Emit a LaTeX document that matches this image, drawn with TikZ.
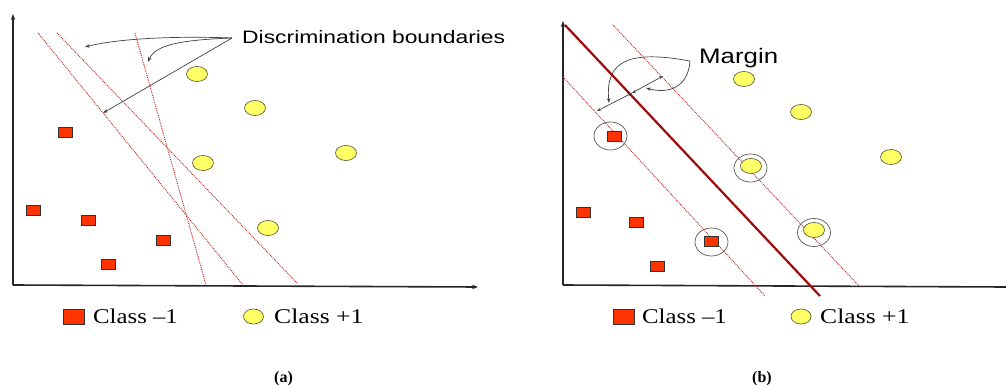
\documentclass[tikz,border=0pt]{standalone}
\usepackage{graphicx}
\usepackage{fontspec}
\setmainfont{Liberation Serif}
\newfontfamily\arialfam{Liberation Sans}
\usetikzlibrary{arrows.meta,shapes.geometric}
\definecolor{negred}{RGB}{255,51,0}
\definecolor{posyel}{RGB}{255,255,102}
\definecolor{bndred}{RGB}{190,30,30}
\definecolor{hypred}{RGB}{160,10,10}
\begin{document}
\begin{tikzpicture}[x=1pt,y=-1pt,
  axis/.style={line width=1.6pt, draw=black!85},
  axarrow/.style={-{Stealth[length=6pt,width=4.5pt]}},
  bound/.style={draw=bndred, line width=0.9pt, densely dotted},
  hyper/.style={draw=hypred, line width=2.2pt},
  negbox/.style={rectangle, draw=black!80, fill=negred, line width=0.6pt, minimum width=14pt, minimum height=10pt, inner sep=0pt},
  posdot/.style={ellipse, draw=black!55!olive, fill=posyel, line width=0.6pt, minimum width=21pt, minimum height=15pt, inner sep=0pt},
  lneg/.style={negbox, minimum width=21pt, minimum height=15pt},
  lpos/.style={posdot, minimum width=20pt, minimum height=15pt},
  ring/.style={ellipse, draw=black!65, line width=0.7pt, minimum width=33pt, minimum height=28pt, inner sep=0pt},
  note/.style={draw=black!75, line width=0.7pt, -{Stealth[length=5pt,width=3.5pt]}},
  dnote/.style={draw=black!75, line width=0.7pt, {Stealth[length=4pt,width=3pt]}-{Stealth[length=4pt,width=3pt]}},
  lbl/.style={inner sep=0pt, anchor=base west},
  sans/.style={font=\arialfam\fontsize{18}{20}\selectfont},
  serif/.style={font=\fontsize{21}{24}\selectfont},
  captxt/.style={font=\bfseries\fontsize{16}{18}\selectfont}
]
\useasboundingbox (0,0) rectangle (1006,385);

% ---------------- panel (a) ----------------
\coordinate (oa) at (13,285);
\coordinate (ya) at (13,14);
\coordinate (xa) at (478,287);
\draw[axis,axarrow] (oa) -- (ya);
\draw[axis,axarrow] (oa) -- (xa);

\coordinate (b1s) at (38,33);  \coordinate (b1e) at (243,285);
\coordinate (b2s) at (57,33);  \coordinate (b2e) at (297,283);
\coordinate (b3s) at (135,33); \coordinate (b3e) at (206,285);
\draw[bound] (b1s) -- (b1e);
\draw[bound] (b2s) -- (b2e);
\draw[bound] (b3s) -- (b3e);

\node[negbox] (an1) at (65,132) {};
\node[negbox] (an2) at (33,210) {};
\node[negbox] (an3) at (88,220) {};
\node[negbox] (an4) at (163,240) {};
\node[negbox] (an5) at (108,264) {};

\node[posdot] (ap1) at (197,74) {};
\node[posdot] (ap2) at (255,108) {};
\node[posdot] (ap3) at (203,163) {};
\node[posdot] (ap4) at (346,153) {};
\node[posdot] (ap5) at (268,228) {};

\node[lbl,sans] (dtext) at (242,44) {\scalebox{1.27}[1]{Discrimination boundaries}};
\coordinate (da) at (232,38);
\coordinate (t1) at (85,47);
\coordinate (t2) at (148,62);
\coordinate (t3) at (103,113);
\draw[note] (da) .. controls (180,36) and (120,38) .. (t1);
\draw[note] (da) .. controls (180,40) and (155,45) .. (t2);
\draw[note] (da) -- (t3);

% legend (a)
\node[lneg] (lga) at (74,316.5) {};
\node[lbl,serif] (lgat) at (93,323) {\scalebox{1.18}[1]{Class \textendash 1}};
\node[lpos] (lgb) at (253.5,316.5) {};
\node[lbl,serif] (lgbt) at (274,323) {\scalebox{1.22}[1]{Class +1}};
\node[lbl,captxt] (capa) at (274,382) {(a)};

% ---------------- panel (b) ----------------
\coordinate (ob) at (563,285);
\coordinate (yb) at (563,21);
\coordinate (xb) at (1006,287);
\draw[axis,axarrow] (ob) -- (yb);
\draw[axis] (ob) -- (xb);

\coordinate (hs) at (565,25);  \coordinate (he) at (820,296);
\coordinate (us) at (613,25);  \coordinate (ue) at (860,287);
\coordinate (ls) at (563,77);  \coordinate (le) at (765,296);
\draw[bound] (us) -- (ue);
\draw[bound] (ls) -- (le);
\draw[hyper] (hs) -- (he);

\node[negbox] (bn1) at (614,136) {};
\node[negbox] (bn2) at (583,212) {};
\node[negbox] (bn3) at (636,222) {};
\node[negbox] (bn4) at (711,241.5) {};
\node[negbox] (bn5) at (657,266) {};

\node[posdot] (bp1) at (744,79) {};
\node[posdot] (bp2) at (801,112) {};
\node[posdot] (bp3) at (751,166) {};
\node[posdot] (bp4) at (891,157) {};
\node[posdot] (bp5) at (814,230) {};

\node[ring] (r1) at (610.5,136) {};
\node[ring] (r2) at (750.5,168) {};
\node[ring] (r3) at (814,232.5) {};
\node[ring] (r4) at (711.5,242) {};

\node[lbl,font=\arialfam\fontsize{21}{24}\selectfont] (mtext) at (699,64) {\scalebox{1.23}[1]{Margin}};
\coordinate (mc) at (690,61);
\coordinate (m1) at (597,111);
\coordinate (m2) at (632,93);
\coordinate (m3) at (663,76);
\coordinate (mt1) at (609,103);
\coordinate (mt2) at (646,88);
\draw[dnote] (m1) -- (m2);
\draw[dnote] (m2) -- (m3);
\draw[note] (mc) .. controls (630,50) and (605,60) .. (mt1);
\draw[note] (mc) .. controls (688,88) and (668,94) .. (mt2);

% legend (b)
\node[lneg] (lgc) at (623.5,316.5) {};
\node[lbl,serif] (lgct) at (642,323) {\scalebox{1.18}[1]{Class \textendash 1}};
\node[lpos] (lgd) at (801,316.5) {};
\node[lbl,serif] (lgdt) at (820,323) {\scalebox{1.22}[1]{Class +1}};
\node[lbl,captxt] (capb) at (752,382) {(b)};
\end{tikzpicture}
\end{document}
